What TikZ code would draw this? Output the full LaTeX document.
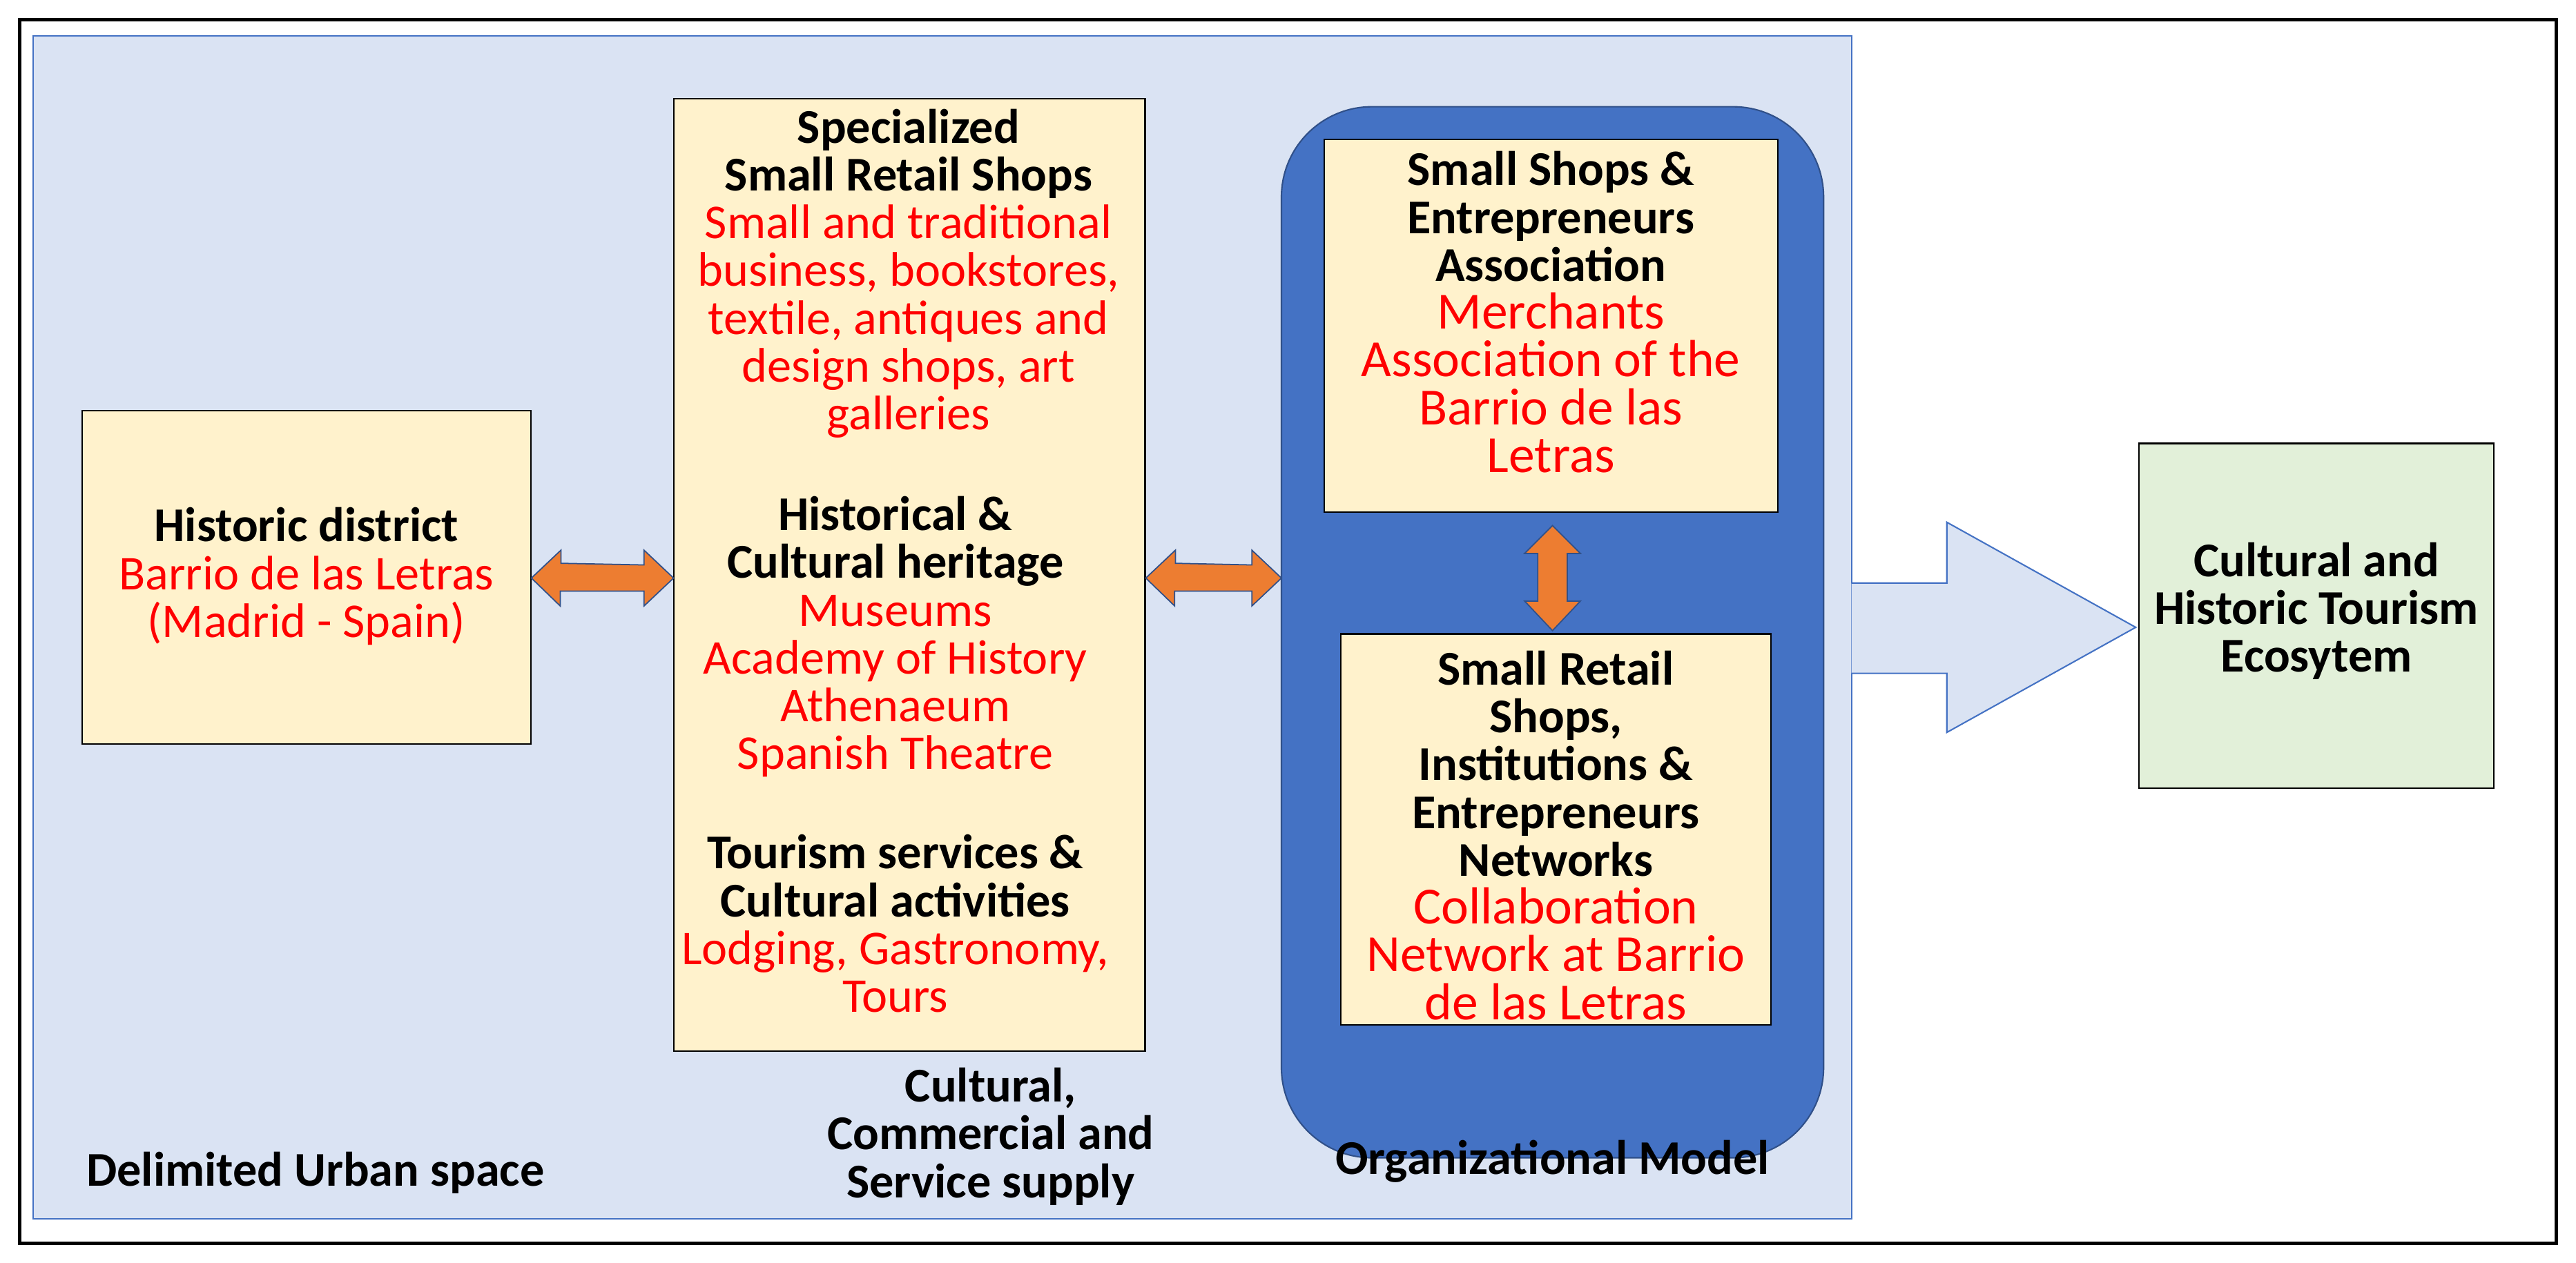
\documentclass[tikz,border=0pt]{standalone}
\usepackage{fontspec}
\setmainfont{Carlito}
\definecolor{lb}{RGB}{218,227,243}
\definecolor{bx}{RGB}{255,242,204}
\definecolor{dblue}{RGB}{68,114,196}
\definecolor{gr}{RGB}{226,240,217}
\definecolor{org}{RGB}{237,125,49}
\definecolor{rd}{RGB}{255,0,0}
\tikzset{
 ybox/.style={draw=black, fill=bx, line width=0.6pt},
 txt/.style={align=center, inner sep=0pt, font=\fontsize{20}{19.7}\selectfont\bfseries},
 darr/.style={fill=org, draw=dblue!70!black, line width=0.5pt},
}
\newcommand{\rt}[1]{{\mdseries\color{rd}#1}}
\newcommand{\rb}[1]{{\mdseries\color{rd}\fontsize{21.5}{21.8}\selectfont#1}}
\begin{document}
\begin{tikzpicture}[x=0.02379cm, y=-0.02379cm]
\useasboundingbox (0,0) rectangle (1568,769);
\fill[white] (0,0) rectangle (1568,769);
\draw[line width=1.5pt] (12,12) rectangle (1556,757);
\draw[fill=lb, draw=dblue, line width=0.6pt] (20,22) rectangle (1127,742);
% big arrow
\draw[fill=lb, draw=dblue, line width=0.6pt] (1127,355) -- (1185,355) -- (1185,318) -- (1300,382) -- (1185,446) -- (1185,410) -- (1127,410);
\node[draw=black, fill=gr, line width=0.6pt, minimum width=216*0.02379cm, minimum height=210*0.02379cm] (eco) at (1410,375) {};
\node[txt] at (1410,372) {Cultural and\\Historic Tourism\\Ecosytem};
\node[ybox, minimum width=273*0.02379cm, minimum height=203*0.02379cm] (hd) at (186.5,351.5) {};
\node[txt] at (186.5,351) {Historic district\\\rt{Barrio de las Letras}\\\rt{(Madrid - Spain)}};
\node[ybox, minimum width=287*0.02379cm, minimum height=580*0.02379cm] (mid) at (553.5,350) {};
\node[txt, anchor=north] (m1) at (553,66) {Specialized\\Small Retail Shops\\\rt{Small and traditional}\\\rt{business, bookstores,}\\\rt{textile, antiques and}\\\rt{design shops, art}\\\rt{galleries}};
\node[txt, anchor=north] (m2) at (545,302) {Historical \&\\Cultural heritage\\\rt{Museums}\\\rt{Academy of History}\\\rt{Athenaeum}\\\rt{Spanish Theatre}};
\node[txt, anchor=north] (m3) at (545,508) {Tourism services \&\\Cultural activities\\\rt{Lodging, Gastronomy,}\\\rt{Tours}};
\draw[fill=dblue, draw=dblue!70!black, line width=0.6pt, rounded corners=55*0.02379cm] (780,65) rectangle (1110,705);
\node[ybox, minimum width=276*0.02379cm, minimum height=227*0.02379cm] (a1) at (944,198.5) {};
\node[txt, anchor=north] at (944,92) {Small Shops \&\\Entrepreneurs\\Association\\\rb{Merchants}\\\rb{Association of the}\\\rb{Barrio de las}\\\rb{Letras}};
\node[ybox, minimum width=262*0.02379cm, minimum height=238*0.02379cm] (a2) at (947,505) {};
\node[txt, anchor=north] at (947,396) {Small Retail\\Shops,\\Institutions \&\\Entrepreneurs\\Networks\\\rb{Collaboration}\\\rb{Network at Barrio}\\\rb{de las Letras}};
% double arrows
\draw[darr] (hd.east |- 0,352) -- ++(18,-17) -- ++(0,8) -- (392,344) -- (392,335) -- (410,352) -- (392,369) -- (392,360) -- (341,360) -- (341,369) -- cycle;
\draw[darr] (mid.east |- 0,352) -- ++(18,-17) -- ++(0,8) -- (762,344) -- (762,335) -- (780,352) -- (762,369) -- (762,360) -- (715,360) -- (715,369) -- cycle;
\draw[darr] (945,320) -- (962,337) -- (954,337) -- (954,366) -- (962,366) -- (945,384) -- (928,366) -- (936,366) -- (936,337) -- (928,337) -- cycle;
\node[txt] (l1) at (192,714) {Delimited Urban space};
\node[txt] (l2) at (603,692) {Cultural,\\Commercial and\\Service supply};
\node[txt] (l3) at (945,707) {Organizational Model};
\end{tikzpicture}
\end{document}
